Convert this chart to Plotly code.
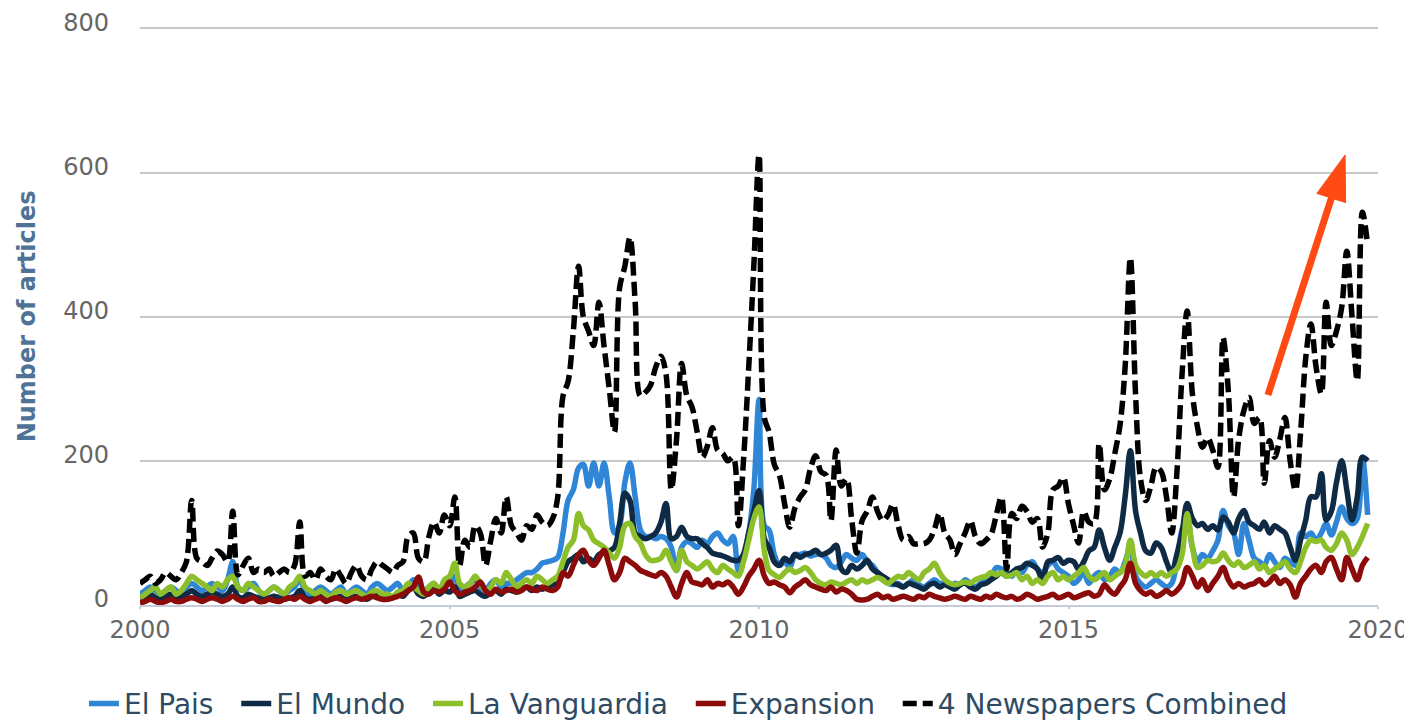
import pandas as pd
import plotly.graph_objects as go

# monthly counts, Jan 2000 .. Nov 2019
months = pd.date_range("2000-01-01", periods=239, freq="MS")

el_pais = [
    15, 20, 25, 20, 15, 20, 25, 20, 15, 25, 30, 25,
    20, 25, 30, 25, 20, 35, 60, 25, 20, 25, 30, 20,
    15, 20, 25, 20, 15, 20, 25, 35, 20, 15, 20, 25,
    20, 15, 20, 25, 15, 20, 25, 20, 15, 25, 30, 25,
    20, 25, 30, 20, 25, 35, 25, 20, 25, 30, 20, 25,
    30, 40, 20, 25, 30, 35, 25, 20, 30, 35, 25, 30,
    30, 35, 40, 45, 45, 50, 58, 60, 62, 66, 100, 145,
    160, 190, 195, 165, 197, 165, 197, 150, 100, 110, 170, 197,
    150, 104, 95, 95, 92, 95, 92, 80, 48, 80, 88, 85,
    80, 90, 85, 95, 100, 90, 85, 95, 48, 70, 100, 160,
    285, 110, 104, 70, 55, 60, 52, 70, 70, 72, 68, 70,
    70, 65, 55, 52, 60, 70, 65, 62, 70, 60, 55, 45,
    35, 30, 28, 30, 25, 30, 35, 28, 25, 30, 35, 30,
    30, 25, 30, 28, 35, 30, 25, 30, 35, 40, 52, 50,
    45, 40, 50, 45, 55, 60, 50, 45, 55, 60, 50, 45,
    40, 30, 35, 45, 30, 40, 45, 35, 40, 50, 45, 60,
    80, 40, 30, 25, 30, 35, 30, 25, 30, 60, 105, 120,
    80, 60, 70, 65, 75, 90, 131, 110, 100, 70, 113, 90,
    65, 60, 55, 70, 60, 52, 65, 60, 55, 100, 95, 100,
    90, 100, 113, 97, 115, 136, 120, 113, 120, 205, 125,
]

el_mundo = [
    10, 12, 15, 10, 8, 12, 15, 10, 12, 15, 20, 15,
    12, 15, 18, 15, 12, 15, 25, 12, 10, 15, 12, 10,
    8, 10, 12, 10, 8, 10, 12, 20, 10, 8, 10, 12,
    10, 8, 10, 12, 8, 10, 12, 10, 8, 12, 15, 12,
    12, 10, 15, 12, 20, 25, 15, 12, 18, 22, 15, 20,
    18, 25, 12, 15, 18, 20, 15, 12, 18, 20, 15, 22,
    20, 18, 22, 25, 20, 25, 22, 25, 28, 30, 45, 60,
    65, 70, 60, 65, 60, 70, 72, 75, 80, 113, 155, 145,
    100, 95, 92, 95, 100, 115, 141, 92, 95, 108, 95, 92,
    92, 85, 80, 72, 70, 68, 65, 62, 62, 70, 100, 130,
    159, 92, 80, 60, 55, 65, 60, 70, 66, 70, 72, 76,
    70, 72, 76, 83, 50, 45, 55, 50, 55, 62, 50, 45,
    40, 35, 30, 28, 25, 30, 28, 25, 22, 28, 30, 25,
    28, 25, 22, 28, 30, 25, 22, 28, 30, 35, 40, 45,
    40, 45, 50, 52, 58, 55, 50, 35, 60, 62, 66, 58,
    62, 60, 50, 60, 75, 80, 104, 80, 62, 80, 100, 150,
    214, 130, 100, 75, 72, 86, 80, 60, 45, 70, 100, 141,
    120, 110, 113, 105, 110, 104, 122, 115, 100, 120, 131, 115,
    110, 105, 115, 100, 110, 105, 100, 80, 62, 90, 118, 150,
    150, 182, 118, 130, 170, 200, 160, 118, 150, 205, 200,
]

la_vanguardia = [
    10, 15, 20, 25, 15, 20, 25, 15, 20, 30, 40, 35,
    30, 25, 20, 30, 25, 35, 40, 25, 20, 30, 25, 20,
    15, 20, 25, 20, 15, 25, 30, 40, 25, 20, 15, 20,
    15, 12, 18, 20, 15, 18, 20, 15, 12, 18, 20, 15,
    15, 12, 18, 20, 30, 25, 20, 15, 25, 30, 20, 35,
    40, 58, 30, 25, 30, 40, 30, 20, 25, 35, 30, 45,
    35, 25, 30, 35, 30, 40, 35, 30, 35, 40, 60, 80,
    90, 127, 110, 104, 90, 85, 80, 72, 65, 80, 110, 113,
    95, 86, 70, 62, 62, 65, 76, 60, 48, 76, 60, 55,
    50, 55, 60, 50, 45, 55, 50, 45, 40, 60, 90, 120,
    136, 75, 48, 42, 38, 45, 50, 45, 48, 52, 45, 35,
    30, 28, 32, 30, 28, 32, 35, 30, 35, 32, 35, 38,
    35, 30, 35, 40, 38, 45, 40, 35, 45, 50, 58, 45,
    35, 30, 28, 30, 32, 30, 35, 38, 40, 45, 42, 45,
    40, 42, 45, 35, 40, 30, 35, 30, 40, 45, 35, 40,
    35, 40, 45, 52, 40, 35, 40, 45, 35, 40, 45, 55,
    90, 55, 45, 40, 45, 40, 45, 40, 45, 50, 70, 127,
    80, 52, 55, 62, 60, 62, 72, 62, 55, 60, 52, 55,
    60, 50, 55, 45, 50, 55, 60, 50, 45, 60, 80, 90,
    88, 90, 80, 76, 85, 100, 90, 70, 80, 95, 113,
]

expansion = [
    3, 5, 8, 5, 3, 5, 8, 5, 5, 8, 10, 8,
    5, 8, 10, 8, 5, 8, 12, 8, 5, 8, 10, 5,
    5, 8, 6, 5, 8, 10, 8, 12, 8, 5, 8, 10,
    5, 8, 10, 8, 5, 8, 10, 8, 10, 12, 10, 8,
    8, 10, 12, 15, 20, 25, 39, 18, 15, 20, 18, 22,
    32, 20, 15, 18, 20, 25, 32, 20, 15, 22, 18, 20,
    22, 18, 20, 25, 22, 20, 25, 22, 20, 25, 45, 40,
    55, 70, 76, 62, 55, 65, 76, 55, 35, 45, 65, 60,
    55, 48, 45, 42, 40, 45, 40, 25, 11, 30, 45, 32,
    30, 28, 35, 25, 30, 28, 32, 25, 15, 25, 40, 50,
    62, 40, 30, 32, 28, 25, 17, 25, 30, 35, 28, 25,
    22, 20, 25, 18, 22, 20, 15, 8, 7, 8, 12, 15,
    10, 12, 8, 10, 12, 10, 8, 12, 10, 15, 12, 10,
    8, 10, 12, 10, 8, 12, 10, 8, 12, 10, 15, 12,
    10, 12, 8, 10, 15, 12, 8, 10, 12, 15, 10, 12,
    15, 10, 12, 15, 17, 12, 15, 28, 20, 15, 25, 35,
    58, 30, 20, 15, 18, 12, 15, 20, 15, 20, 30, 52,
    40, 25, 35, 20, 30, 40, 52, 35, 25, 30, 25, 28,
    30, 35, 28, 32, 40, 30, 35, 28, 11, 30, 40, 50,
    55, 45, 60, 66, 50, 35, 66, 50, 35, 55, 66,
]

combined = [
    30, 35, 40, 30, 35, 45, 40, 35, 45, 60, 145, 65,
    60, 55, 65, 75, 70, 60, 130, 42, 55, 65, 45, 50,
    45, 50, 40, 45, 50, 45, 55, 115, 40, 45, 35, 50,
    40, 35, 50, 40, 30, 45, 55, 40, 35, 50, 60, 55,
    50, 45, 55, 60, 95, 100, 65, 60, 95, 115, 100, 125,
    110, 150, 55, 90, 80, 110, 100, 55, 90, 120, 100, 150,
    110, 100, 90, 110, 105, 125, 115, 110, 120, 150, 290, 310,
    380, 470, 400, 380, 360, 420, 360, 300, 240, 440, 470, 510,
    420, 290, 295, 305, 330, 345, 320, 160, 230, 335, 290, 275,
    240, 205, 220, 246, 215, 210, 200, 205, 110, 200, 330, 470,
    625, 260, 240, 195, 180, 140, 108, 135, 150, 160, 190, 207,
    185, 180, 117, 215, 165, 175, 120, 72, 117, 130, 150, 130,
    117, 125, 140, 110, 90, 95, 85, 85, 85, 90, 105, 127,
    100, 90, 70, 85, 100, 117, 95, 85, 90, 98, 125, 150,
    50, 127, 120, 137, 130, 115, 120, 80, 100, 160, 165, 177,
    140, 110, 86, 130, 115, 113, 224, 160, 175, 210, 250, 330,
    482, 290, 175, 145, 165, 191, 185, 150, 100, 182, 320, 408,
    293, 246, 219, 232, 215, 191, 371, 297, 150, 230, 270, 288,
    252, 260, 169, 228, 205, 230, 260, 200, 159, 238, 343, 390,
    330, 293, 420, 360, 380, 413, 491, 400, 311, 545, 500,
]

series = [
    ("El Pais", el_pais, "#2f86d6", "solid"),
    ("El Mundo", el_mundo, "#0e2a44", "solid"),
    ("La Vanguardia", la_vanguardia, "#8cbf2a", "solid"),
    ("Expansion", expansion, "#8b0a0a", "solid"),
    ("4 Newspapers Combined", combined, "#000000", "14px,6px"),
]

NBSP = "\u00a0"

fig = go.Figure()
for i, (name, values, color, dash) in enumerate(series):
    # non-breaking spaces widen the gap between legend entries
    label = name if i == len(series) - 1 else name + NBSP * 2
    fig.add_trace(go.Scatter(
        x=months, y=values, name=label, mode="lines",
        line=dict(color=color, width=5.5, shape="spline", smoothing=1, dash=dash),
    ))

# the page body has an 8px margin, so the figure is 8px smaller each way
fig.update_layout(
    width=1404, height=714,
    margin=dict(l=132, r=34, t=19, b=117, autoexpand=False),
    plot_bgcolor="white", paper_bgcolor="white",
    font=dict(family="DejaVu Sans", color="#666666"),
    legend=dict(
        orientation="h", x=0.443, xanchor="center", y=-0.171, yanchor="middle",
        font=dict(size=28, color="#2f4a63"),
    ),
)

fig.update_xaxes(
    range=["2000-01-01", "2020-01-01 06:00"], tick0="2000-01-01", dtick="M60", tickformat="%Y",
    showgrid=False, zeroline=False,
    showline=True, linecolor="#c4ccdc", linewidth=2,
    ticks="outside", ticklen=2, tickwidth=2, tickcolor="#c4ccdc",
    tickfont=dict(size=24, color="#666666"),
)
fig.update_yaxes(
    range=[0, 802], dtick=200, showgrid=True, gridcolor="#c8c8c8", gridwidth=1.5,
    zeroline=False, tickfont=dict(size=24, color="#666666"),
    ticklabelstandoff=30, ticklabelshift=-6,
)

# axis title placed by hand so it sits where the original has it
fig.add_annotation(
    text="Number of articles", textangle=-90, showarrow=False,
    xref="paper", yref="paper", x=-0.091, y=0.5, xanchor="center", yanchor="middle",
    font=dict(family="DejaVu Sans", size=24, color="#4f7397", weight="bold"),
)

# the orange trend arrow: shaft + long triangular head (paper coords)
arrow_color = "#ff4a14"
fig.add_shape(
    type="line", xref="paper", yref="paper",
    x0=0.9111, y0=0.3633, x1=0.9625, y1=0.7050,
    line=dict(color=arrow_color, width=7),
)
fig.add_shape(
    type="path", xref="paper", yref="paper",
    path="M 0.9734 0.7785 L 0.9738 0.6962 L 0.9506 0.7121 Z",
    fillcolor=arrow_color, line=dict(color=arrow_color, width=1),
)

fig.write_html("out.html")
